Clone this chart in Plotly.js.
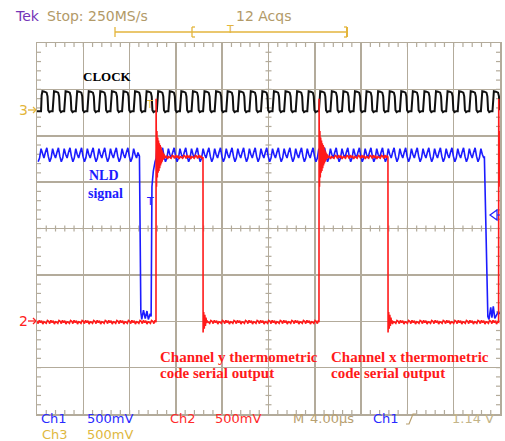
<!DOCTYPE html>
<html><head><meta charset="utf-8">
<script src="https://cdn.plot.ly/plotly-3.0.1.min.js"></script>
<style>html,body{margin:0;padding:0;background:#fff;}#chart{width:505px;height:441px;}</style>
</head><body><div id="chart"></div>
<script>
const voltsPerDiv = 0.5;                 // 500 mV/div (Ch1, Ch2, Ch3)
const ch1Pos = 2.0, ch2Pos = 2.0, ch3Pos = 6.55;   // ground markers (div from bottom)

// Ch3 : CLOCK  (rising-edge times, µs from left edge of screen)
const clockRise = [0.35,1.35,2.35,3.35,4.35,5.35,6.35,7.35,8.35,9.35,10.35,11.35,12.35,13.35,14.35,15.35,16.35,17.35,18.35,19.35,
                   20.35,21.35,22.35,23.35,24.35,25.35,26.35,27.35,28.35,29.35,30.35,31.35,32.35,33.35,34.35,35.35,36.35,37.35,38.35,39.35];
const clockCycleT = [0.00, 0.05, 0.12, 0.30, 0.48, 0.56, 0.62, 0.72, 0.86];   // offsets inside one clock cycle (µs)
const clockCycleV = [-0.01, 0.16, 0.205, 0.20, 0.19, 0.15, 0.00, -0.02, -0.01]; // volts
const clockLow = -0.01;

// Ch1 : NLD signal
const ch1High = 1.79;
const ch1HighSpans = [[0, 8.85], [10.3, 38.65]];
const ch1RippleT = [0.00, 0.12, 0.25, 0.37, 0.50, 0.62, 0.75, 0.87];       // phase inside a clock cycle (µs)
const ch1RippleV = [0.07, 0.01, -0.03, 0.03, 0.08, -0.01, -0.07, -0.03];   // volts around the high level
const ch1EdgeT = [8.85, 8.97, 9.05, 9.20, 9.35, 9.50, 9.62, 9.78, 9.86, 9.93, 10.05, 10.20, 10.30,
                  38.65, 38.75, 38.95, 39.05, 39.20, 39.30, 39.42, 39.55, 39.70, 39.85, 40.0];
const ch1EdgeV = [1.78, 0.10, 0.02, 0.12, 0.03, 0.11, 0.02, 0.08, 0.05, 1.45, 1.62, 1.72, 1.76,
                  1.78, 1.20, 0.05, 0.02, 0.15, 0.04, 0.16, 0.03, 0.07, 0.10, 0.08];

// Ch2 : thermometric code serial output
const ch2High = 1.77, ch2Low = -0.01;
const ch2RiseT = [10.28, 24.36, 39.88];
const ch2FallT = [14.34, 30.32];
const ch2RingRise = [2.40, 1.45, 2.05, 1.55, 1.98, 1.60, 1.95, 1.62, 1.92, 1.65, 1.90, 1.68, 1.88, 1.70, 1.85, 1.72, 1.83, 1.74, 1.81, 1.75, 1.80, 1.76, 1.78];
const ch2RingRiseStep = 0.035;
const ch2RingFall = [-0.12, 0.10, -0.08, 0.07, -0.05, 0.04, -0.02, 0.01];
const ch2RingFallStep = 0.05;
const ch2Fuzz = [0.010, -0.015, 0.020, -0.005, 0.015, -0.020, 0.005, 0.000, -0.012, 0.018];
const ch2FuzzStep = 0.1;

// ---------------- building traces ----------------
const toDiv = (v, pos) => pos + v / voltsPerDiv;

function clockTrace() {
  const x = [0], y = [toDiv(clockLow, ch3Pos)];
  clockRise.forEach(r => {
    clockCycleT.forEach((dt, i) => {
      const t = r + dt;
      if (t <= 40) { x.push(t); y.push(toDiv(clockCycleV[i], ch3Pos)); }
    });
  });
  return {x, y};
}

function ch1Trace() {
  const pts = [];
  ch1HighSpans.forEach(([a, b]) => {
    clockRise.concat([-0.65]).forEach(r => {
      ch1RippleT.forEach((dt, i) => {
        const t = r + dt;
        if (t >= a && t < b) pts.push([t, ch1High + ch1RippleV[i]]);
      });
    });
  });
  ch1EdgeT.forEach((t, i) => pts.push([t, ch1EdgeV[i]]));
  pts.sort((p, q) => p[0] - q[0]);
  return {x: pts.map(p => p[0]), y: pts.map(p => toDiv(p[1], ch1Pos))};
}

function ch2Trace() {
  const edges = [];
  ch2RiseT.forEach(t => edges.push([t, 'r']));
  ch2FallT.forEach(t => edges.push([t, 'f']));
  edges.sort((a, b) => a[0] - b[0]);
  const x = [], y = [];
  let t0 = 0, level = ch2Low, k = 0;
  const flat = (a, b, lev) => {
    for (let t = a; t < b; t += ch2FuzzStep) { x.push(t); y.push(toDiv(lev + ch2Fuzz[k++ % ch2Fuzz.length], ch2Pos)); }
  };
  edges.forEach(([te, kind]) => {
    flat(t0, te, level);
    x.push(te); y.push(toDiv(level, ch2Pos));
    let end = te;
    if (kind === 'r') {
      ch2RingRise.forEach((v, i) => { const t = te + 0.01 + i * ch2RingRiseStep; if (t <= 40) { x.push(t); y.push(toDiv(v, ch2Pos)); end = t; } });
      level = ch2High;
    } else {
      ch2RingFall.forEach((v, i) => { const t = te + 0.01 + i * ch2RingFallStep; x.push(t); y.push(toDiv(v, ch2Pos)); end = t; });
      level = ch2Low;
    }
    t0 = end + 0.02;
  });
  flat(t0, 40, level);
  return {x, y};
}

const clk = clockTrace(), c1 = ch1Trace(), c2 = ch2Trace();
const traces = [
  {x: clk.x, y: clk.y, type: 'scatter', mode: 'lines', line: {color: '#101010', width: 2}, hoverinfo: 'skip'},
  {x: c1.x, y: c1.y, type: 'scatter', mode: 'lines', line: {color: '#1c1cff', width: 1.6}, hoverinfo: 'skip'},
  {x: c2.x, y: c2.y, type: 'scatter', mode: 'lines', line: {color: '#ff1a1a', width: 1.6}, hoverinfo: 'skip'}
];

// ---------------- decorations ----------------
const L = 37, T = 43, W = 463, H = 371;
const px = p => (p - L) / W, py = p => (T + H - p) / H;
const gridCol = '#b3ab9b';
const shapes = [];
const seg = (x0, y0, x1, y1, col, w, xref, yref) => shapes.push({type: 'line', x0, y0, x1, y1, xref: xref || 'x', yref: yref || 'y', line: {color: col || gridCol, width: w || 1.2}, layer: 'below'});
const tX = 4 * 40 / W, tY = 4 * 8 / H, cX = 3 * 40 / W, cY = 3 * 8 / H;
for (let i = 1; i < 50; i++) {
  const x = i * 0.8;
  seg(x, 8, x, 8 - tY); seg(x, 0, x, tY); seg(x, 4 - cY, x, 4 + cY);
}
for (let i = 1; i < 40; i++) {
  const y = i * 0.2;
  seg(0, y, tX, y); seg(40, y, 40 - tX, y); seg(20 - cX, y, 20 + cX, y);
}
// record-length bar at top
const gold = '#e3b53c';
const pseg = (x0, y0, x1, y1, col, w) => shapes.push({type: 'line', xref: 'paper', yref: 'paper', x0: px(x0), y0: py(y0), x1: px(x1), y1: py(y1), line: {color: col, width: w || 1.3}});
pseg(115, 32, 347, 32, gold);
pseg(115, 27, 115, 37, gold);
pseg(192, 27, 192, 37, gold); pseg(192, 27, 195, 27, gold); pseg(192, 37, 195, 37, gold);
pseg(347, 27, 347, 37, gold, 2); pseg(344, 27, 347, 27, gold); pseg(344, 37, 347, 37, gold);
// ground markers arrows
pseg(28, 110, 36, 110, gold); pseg(33, 107, 36, 110, gold); pseg(33, 113, 36, 110, gold);
pseg(28, 321, 36, 321, '#ff2020'); pseg(33, 318, 36, 321, '#ff2020'); pseg(33, 324, 36, 321, '#ff2020');
// trigger level marker (right)
shapes.push({type: 'path', xref: 'paper', yref: 'paper',
  path: `M ${px(490)},${py(215)} L ${px(497)},${py(210)} L ${px(497)},${py(220)} Z M ${px(497)},${py(215)} L ${px(500)},${py(215)}`,
  line: {color: '#2020ff', width: 1.2}});
// trigger slope symbol in the status line
shapes.push({type: 'path', xref: 'paper', yref: 'paper',
  path: `M ${px(406)},${py(424)} L ${px(409)},${py(424)} L ${px(413)},${py(414)} L ${px(416)},${py(414)}`,
  line: {color: '#b8a070', width: 1.2}});

const ann = [];
const A = (text, x, y, color, size, family, xanchor) => ann.push({text, x: px(x), y: py(y), xref: 'paper', yref: 'paper',
  showarrow: false, xanchor: xanchor || 'left', yanchor: 'middle', font: {color, size, family}, borderpad: 0});
const sans = 'DejaVu Sans, sans-serif', serif = 'Liberation Serif, Times New Roman, serif';
A('Tek', 14, 16, '#7434b8', 14, sans);
A('Stop: 250MS/s', 46, 16, '#b29a68', 14, sans);
A('12 Acqs', 235, 16, '#b29a68', 14, sans);
A('T', 230, 29, gold, 11, sans, 'center');
A('3', 23, 110, gold, 14, sans, 'center');
A('2', 23, 321, '#ff2020', 14, sans, 'center');
A('T', 150, 104, gold, 10, sans, 'center');
A('T', 150, 201, '#2020ff', 11, sans, 'center');
A('Ch1', 40, 419, '#2a2aff', 13, sans);
A('500mV', 86, 419, '#2a2aff', 13, sans);
A('Ch2', 169, 419, '#ff2a2a', 13, sans);
A('500mV', 214, 419, '#ff2a2a', 13, sans);
A('M', 292, 419, '#b8a070', 13, sans);
A('4.00µs', 309, 419, '#b8a070', 13, sans);
A('Ch1', 372, 419, '#2a2aff', 13, sans);
A('1.14 V', 451, 419, '#c4b488', 13, sans);
A('Ch3', 41, 434, '#e0b840', 13, sans);
A('500mV', 86, 434, '#e0b840', 13, sans);
A('<b>CLOCK</b>', 107, 76, '#000000', 13, serif, 'center');
A('<b>NLD</b>', 88, 175, '#1c1cff', 14, serif);
A('<b>signal</b>', 87, 193, '#1c1cff', 14, serif);
A('<b>Channel y thermometric</b>', 159, 357, '#ff1a1a', 15, serif);
A('<b>code serial output</b>', 159, 373, '#ff1a1a', 15, serif);
A('<b>Channel x thermometric</b>', 330, 357, '#ff1a1a', 15, serif);
A('<b>code serial output</b>', 330, 373, '#ff1a1a', 15, serif);

const layout = {
  width: 505, height: 441,
  margin: {l: L, r: 505 - L - W, t: T, b: 441 - T - H, pad: 0},
  paper_bgcolor: '#ffffff', plot_bgcolor: '#ffffff', showlegend: false,
  xaxis: {range: [0, 40], dtick: 4, tick0: 0, showgrid: true, gridcolor: gridCol, gridwidth: 1.5, zeroline: false,
          showline: true, mirror: true, linecolor: gridCol, linewidth: 1.5, ticks: '', showticklabels: false, fixedrange: true},
  yaxis: {range: [0, 8], dtick: 1, tick0: 0, showgrid: true, gridcolor: gridCol, gridwidth: 1.5, zeroline: false,
          showline: true, mirror: true, linecolor: gridCol, linewidth: 1.5, ticks: '', showticklabels: false, fixedrange: true},
  shapes, annotations: ann
};
Plotly.newPlot('chart', traces, layout, {staticPlot: true, displayModeBar: false});
</script></body></html>
